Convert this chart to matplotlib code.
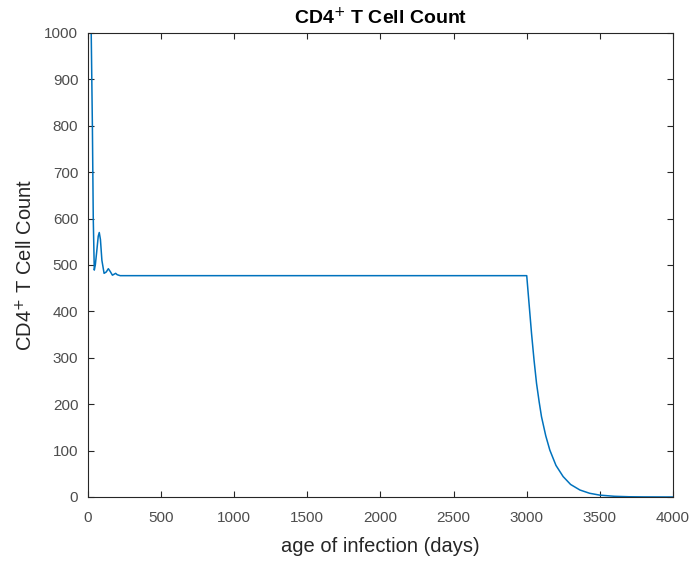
import matplotlib.pyplot as plt

plt.rcParams['font.family'] = ['Liberation Sans', 'DejaVu Sans']

# time (days) and CD4+ count
t = [0, 22, 30, 36, 43, 50, 60, 70, 77, 85, 95, 110, 125, 139, 152, 167, 178, 189,
     200, 220, 500, 1000, 1500, 2000, 2500, 3000,
     3015, 3033, 3050, 3067, 3085, 3101, 3130, 3158, 3200, 3249, 3300, 3364,
     3430, 3500, 3600, 3700, 3800, 4000]
cd4 = [1000, 1000, 800, 600, 489, 500, 530, 562, 570, 555, 510, 482, 485, 492, 486, 478, 480, 482,
       479, 477, 477, 477, 477, 477, 477, 477,
       420, 352, 295, 245, 205, 173, 132, 101, 68, 44, 27, 15,
       8, 4, 1.5, 0.5, 0.2, 0]

xticks = [0, 500, 1000, 1500, 2000, 2500, 3000, 3500, 4000]
yticks = [0, 100, 200, 300, 400, 500, 600, 700, 800, 900, 1000]

axcol = '#262626'
fig = plt.figure(figsize=(6.94, 5.61), dpi=100)
ax = fig.add_axes([0.1268, 0.1141, 0.8429, 0.8271])
ax.plot(t, cd4, color='#0072BD', lw=1.1)

ax.set_xlim(0, 4000)
ax.set_ylim(0, 1000)
ax.set_xticks(xticks)
ax.set_yticks(yticks)
ax.tick_params(direction='in', top=True, right=True, length=4, width=0.8,
               colors=axcol, labelsize=11, labelcolor='#4d4d4d')
ax.tick_params(axis='x', pad=10)
ax.tick_params(axis='y', pad=7)
for s in ax.spines.values():
    s.set_color(axcol)
    s.set_linewidth(0.8)

ax.set_xlabel('age of infection (days)', fontsize=14.5, color='#262626', labelpad=9)
ax.set_ylabel('CD4$^{+}$ T Cell Count', fontsize=14.5, color='#262626', labelpad=6)
ax.set_title('CD4$^{+}$ T Cell Count', fontsize=14, fontweight='bold', color='black', pad=6)

fig.savefig('out.png', dpi=100)
